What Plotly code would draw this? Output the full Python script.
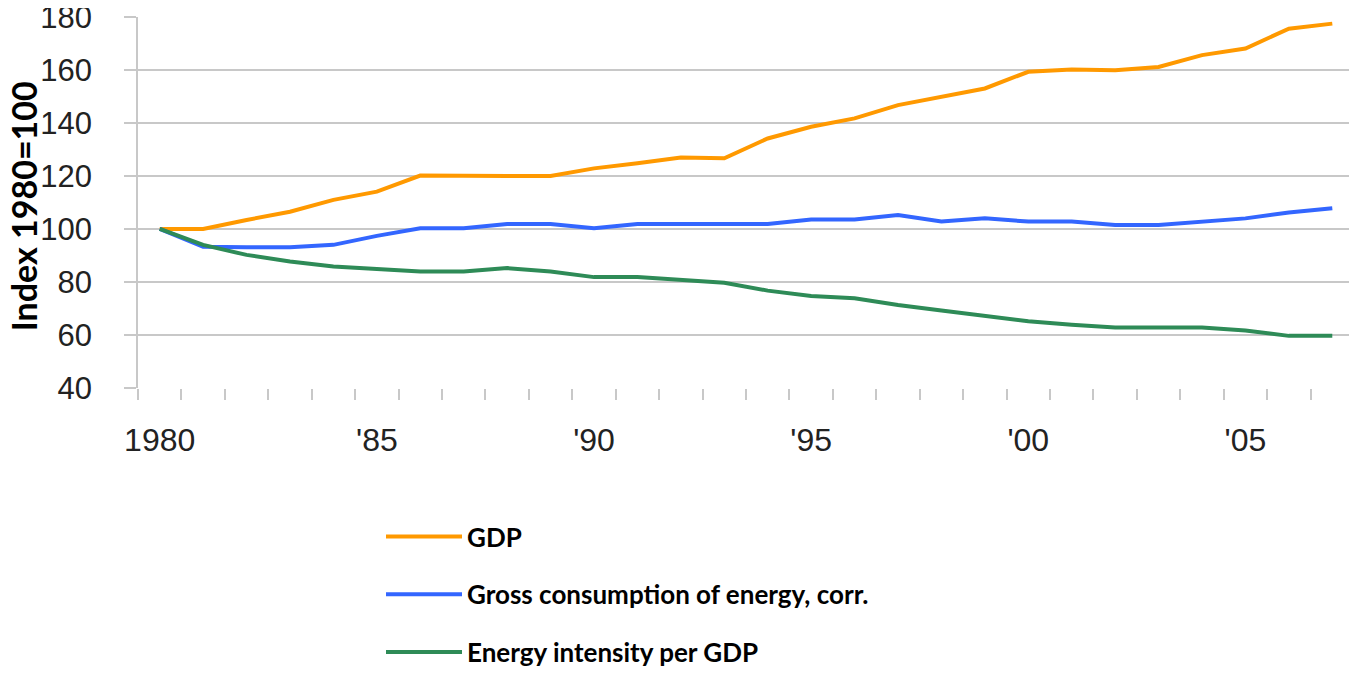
import plotly.graph_objects as go

years = list(range(1980, 2008))
gdp = [100, 100, 103.4, 106.5, 111, 114.1, 120.2, 120, 120, 120, 122.9, 124.8, 127, 126.7,
       134.2, 138.6, 141.8, 146.8, 149.9, 153.1, 159.4, 160.3, 160, 161.2, 165.7, 168.2, 175.7, 177.6]
energy = [100, 93.3, 93.1, 93.1, 94, 97.4, 100.3, 100.3, 101.9, 101.9, 100.3, 101.9, 101.9, 101.9,
          101.9, 103.6, 103.6, 105.3, 102.8, 104, 102.8, 102.8, 101.5, 101.5, 102.8, 104, 106.2, 107.8]
intensity = [100, 94, 90.2, 87.7, 85.8, 84.8, 83.9, 83.9, 85.2, 83.9, 81.8, 81.8, 80.8, 79.7,
             76.7, 74.7, 73.8, 71.3, 69.2, 67.2, 65.1, 63.8, 62.8, 62.8, 62.8, 61.6, 59.6, 59.6]
series_names = ["GDP", "Gross consumption of energy, corr.", "Energy intensity per GDP"]
series_colors = ["#FF9900", "#3366FF", "#2E8B57"]
x_tickvals = [1980, 1985, 1990, 1995, 2000, 2005]
x_ticktext = ["1980", "'85", "'90", "'95", "'00", "'05"]
y_tickvals = [40, 60, 80, 100, 120, 140, 160, 180]
y_title = "Index 1980=100"

fig = go.Figure()
for i, (name, vals, col) in enumerate(zip(series_names, [gdp, energy, intensity], series_colors)):
    fig.add_trace(go.Scatter(x=years, y=vals, mode="lines", name=name,
                             legendgroup=f"g{i}",
                             line=dict(color=col, width=4)))

grid = "#c8c8c8"
W, H = 1357, 675
L, R, T, B = 130, 11, 9, 295
PW = W - L - R
PH = H - T - B
fig.update_layout(
    width=W, height=H,
    paper_bgcolor="white", plot_bgcolor="white",
    margin=dict(l=L, r=R, t=T, b=B, autoexpand=False),
    font=dict(family="Liberation Sans, Arial, sans-serif", color="#222222"),
    xaxis=dict(range=[1979.5, 2007.5], tickvals=x_tickvals, ticktext=x_ticktext,
               ticks="", showgrid=False, zeroline=False, showline=False, automargin=False,
               tickfont=dict(size=32), ticklabelstandoff=30, ticklabeloverflow="allow",
               minor=dict(tick0=1979.5, dtick=1, ticks="outside", ticklen=11,
                          tickcolor=grid, tickwidth=1.5, showgrid=False)),
    yaxis=dict(range=[39.9, 180.1], tickvals=y_tickvals, showgrid=True, gridcolor=grid,
               gridwidth=1.5, zeroline=False, showline=True, linecolor=grid, linewidth=1.5,
               ticks="outside", ticklen=12, tickcolor=grid, tickwidth=1.5, automargin=False,
               tickfont=dict(size=31), ticklabelstandoff=26, ticklabeloverflow="allow"),
    legend=dict(x=(373 - L) / PW, y=-(505 - (T + PH)) / PH, xanchor="left", yanchor="top",
                font=dict(family="Lato, Open Sans, sans-serif", size=26, color="black", weight="bold"),
                tracegroupgap=21, itemwidth=76, bgcolor="rgba(0,0,0,0)"),
    showlegend=True,
)
fig.add_annotation(text=f"<b>{y_title}</b>", xref="paper", yref="paper",
                   x=(15 - L) / PW, y=0.49, xanchor="center", yanchor="middle",
                   textangle=-90, showarrow=False,
                   font=dict(family="Lato, Open Sans, sans-serif", size=34, color="black"))
fig.write_html("out.html")
